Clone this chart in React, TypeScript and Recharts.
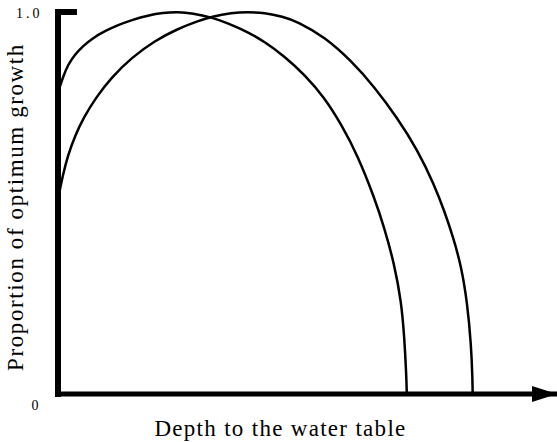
import React from 'react';
import { LineChart, Line, XAxis, YAxis, ReferenceLine, ReferenceDot } from 'recharts';

// depth to water table in arbitrary units (0 = surface, 500 = end of the axis)
const shallowCurve = [
  { x: 0, y: 0.79 },
  { x: 5, y: 0.83 },
  { x: 10, y: 0.862 },
  { x: 17, y: 0.889 },
  { x: 25, y: 0.911 },
  { x: 35, y: 0.932 },
  { x: 47, y: 0.95 },
  { x: 60, y: 0.966 },
  { x: 75, y: 0.98 },
  { x: 90, y: 0.991 },
  { x: 105, y: 0.998 },
  { x: 120, y: 1.0 },
  { x: 135, y: 0.997 },
  { x: 154, y: 0.986 },
  { x: 170, y: 0.971 },
  { x: 190, y: 0.948 },
  { x: 207, y: 0.922 },
  { x: 227, y: 0.884 },
  { x: 247, y: 0.836 },
  { x: 267, y: 0.776 },
  { x: 284, y: 0.705 },
  { x: 300, y: 0.626 },
  { x: 317, y: 0.514 },
  { x: 327, y: 0.435 },
  { x: 337, y: 0.34 },
  { x: 344, y: 0.241 },
  { x: 347, y: 0.15 },
  { x: 349, y: 0.05 },
  { x: 349.5, y: 0 },
];

const deepCurve = [
  { x: 0, y: 0.51 },
  { x: 5, y: 0.575 },
  { x: 10, y: 0.625 },
  { x: 17, y: 0.676 },
  { x: 26, y: 0.725 },
  { x: 38, y: 0.776 },
  { x: 54, y: 0.83 },
  { x: 74, y: 0.881 },
  { x: 97, y: 0.925 },
  { x: 120, y: 0.956 },
  { x: 140, y: 0.976 },
  { x: 154, y: 0.988 },
  { x: 174, y: 0.998 },
  { x: 190, y: 1.0 },
  { x: 207, y: 0.998 },
  { x: 225, y: 0.988 },
  { x: 240, y: 0.975 },
  { x: 267, y: 0.935 },
  { x: 294, y: 0.872 },
  { x: 317, y: 0.804 },
  { x: 340, y: 0.723 },
  { x: 360, y: 0.64 },
  { x: 377, y: 0.548 },
  { x: 387, y: 0.48 },
  { x: 396, y: 0.41 },
  { x: 404, y: 0.335 },
  { x: 410, y: 0.241 },
  { x: 414, y: 0.128 },
  { x: 415.3, y: 0.04 },
  { x: 415.5, y: 0 },
];

const yTicks = [0, 1];
const yTickLabels: Record<number, string> = { 0: '0', 1: '1.0' };

const FONT = '"Liberation Serif", "DejaVu Serif", serif';

function YTick({ x, y, payload }: any) {
  const v = payload.value;
  if (v === 1) {
    return (
      <text x={x - 42} y={y + 6} fontFamily={FONT} fontSize={14} letterSpacing={3} fill="#000">
        {yTickLabels[v]}
      </text>
    );
  }
  return (
    <text x={x - 23} y={y + 16} textAnchor="middle" fontFamily={FONT} fontSize={14} fill="#000">
      {yTickLabels[v]}
    </text>
  );
}

function Arrowhead({ cx, cy }: any) {
  return <polygon points={`${cx},${cy} ${cx - 25},${cy - 8} ${cx - 25},${cy + 8}`} fill="#000" />;
}

export default function App() {
  return (
    <div style={{ position: 'absolute', left: 0, top: 0, background: '#fff' }}>
      <LineChart width={557} height={442} margin={{ top: 12, right: 0, bottom: 0, left: 0 }}>
        <XAxis
          type="number"
          dataKey="x"
          domain={[0, 500]}
          tick={false}
          tickLine={false}
          height={48}
          axisLine={{ stroke: '#000', strokeWidth: 5, strokeLinecap: 'square' }}
          label={{
            value: 'Depth to the water table',
            position: 'insideBottom',
            offset: 6,
            dx: -27,
            style: { fontFamily: FONT, fontSize: 23, letterSpacing: 1.3, fill: '#000' },
          }}
        />
        <YAxis
          type="number"
          dataKey="y"
          domain={[0, 1]}
          ticks={yTicks}
          width={58}
          tickLine={false}
          tickSize={0}
          tickMargin={0}
          tick={<YTick />}
          axisLine={{ stroke: '#000', strokeWidth: 6, strokeLinecap: 'square' }}
          label={{
            value: 'Proportion of optimum growth',
            angle: -90,
            position: 'insideLeft',
            offset: 15,
            dy: 4,
            style: { textAnchor: 'middle', fontFamily: FONT, fontSize: 23, letterSpacing: 1.6, fill: '#000' },
          }}
        />
        <ReferenceLine
          segment={[{ x: 0, y: 1 }, { x: 16, y: 1 }]}
          stroke="#000"
          strokeWidth={6}
          strokeLinecap="square"
        />
        <ReferenceDot x={500} y={0} r={0} shape={Arrowhead} ifOverflow="visible" />
        <Line
          data={shallowCurve}
          dataKey="y"
          type="basis"
          stroke="#000"
          strokeWidth={2.5}
          dot={false}
          isAnimationActive={false}
        />
        <Line
          data={deepCurve}
          dataKey="y"
          type="basis"
          stroke="#000"
          strokeWidth={2.5}
          dot={false}
          isAnimationActive={false}
        />
      </LineChart>
    </div>
  );
}
